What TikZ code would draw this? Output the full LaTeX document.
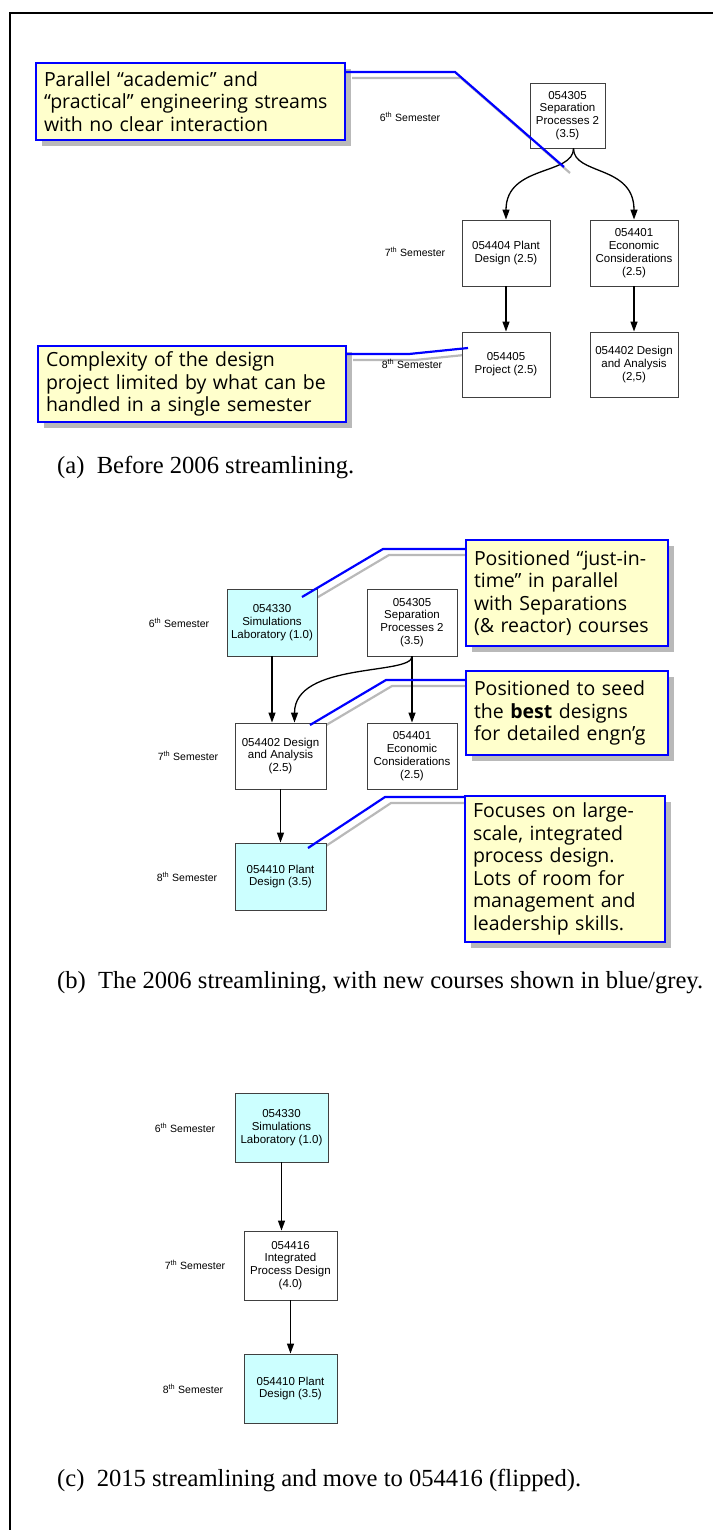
\documentclass[tikz,border=0pt]{standalone}
\usepackage{fontspec}
\setmainfont{Liberation Serif}
\setsansfont{Liberation Sans}
\newfontfamily\notefamily{Open Sans}
\usetikzlibrary{arrows.meta,shadows,backgrounds}

\definecolor{notefill}{RGB}{255,255,204}
\definecolor{newfill}{RGB}{204,255,255}
\definecolor{noteblue}{RGB}{0,0,255}
\definecolor{shadegrey}{RGB}{185,185,185}

\tikzset{
  course/.style={draw=black!75, line width=0.9pt, fill=white, align=center, inner sep=0pt,
    font=\sffamily\fontsize{11.5}{12.8}\selectfont},
  newcourse/.style={course, fill=newfill},
  sem/.style={font=\sffamily\fontsize{10.5}{12}\selectfont},
  note/.style={draw=noteblue, line width=2.2pt, fill=notefill, align=left,
    inner xsep=8pt, inner ysep=0pt, font=\notefamily\fontsize{19.5}{22.5}\selectfont,
    drop shadow={shadow xshift=6pt, shadow yshift=-6pt, fill=shadegrey, opacity=1}},
  leader/.style={noteblue, line width=2.2pt},
  leadershade/.style={shadegrey, line width=2.2pt, transform canvas={xshift=6pt,yshift=-6pt}},
  flow/.style={line width=1.3pt, -{Triangle[length=10pt,width=7pt]}},
  caption/.style={anchor=west, inner sep=0pt, font=\rmfamily\fontsize{24.6}{29}\selectfont},
}

\begin{document}
\begin{tikzpicture}[x=1pt,y=-1pt]
\useasboundingbox (0,0) rectangle (713,1530);
\draw[line width=2pt] (10,1530) -- (10,13) -- (713,13);

% (a) before 2006
\node[sem] (semsixa) at (410,117) {6\textsuperscript{th} Semester};
\node[sem] (semsevena) at (415,252) {7\textsuperscript{th} Semester};
\node[sem] (semeighta) at (412,364) {8\textsuperscript{th} Semester};
\node[course, minimum width=75pt, minimum height=65pt] (sepa) at (567.5,115.5) {054305\\Separation\\Processes 2\\(3.5)};
\node[course, minimum width=88pt, minimum height=66pt] (plantd) at (506,253) {054404 Plant\\Design (2.5)};
\node[course, minimum width=88pt, minimum height=66pt] (econa) at (634,253) {054401\\Economic\\Considerations\\(2.5)};
\node[course, minimum width=88pt, minimum height=65pt] (proja) at (506,364.5) {054405\\Project (2.5)};
\node[course, minimum width=88pt, minimum height=65pt] (desa) at (634,364.5) {054402 Design\\and Analysis\\(2,5)};
\draw[flow] ([xshift=6pt]sepa.south) .. controls +(0,27) and +(0,-55) .. (plantd.north);
\draw[flow] ([xshift=6pt]sepa.south) .. controls +(0,27) and +(0,-55) .. (econa.north);
\draw[flow] (plantd) -- (proja);
\draw[flow] (econa) -- (desa);

\node[note, text width=293pt, minimum height=77pt] (notepar) at (190.5,101.5) {Parallel “academic” and\\“practical” engineering streams\\with no clear interaction};
\node[note, text width=292pt, minimum height=76pt] (notecomp) at (192,384) {Complexity of the design\\project limited by what can be\\handled in a single semester};
\coordinate (parbend) at (455,72);
\coordinate (parend) at (564,167);
\coordinate (compbend) at (409,354);
\coordinate (compend) at (468,348);
\begin{scope}[on background layer]
\draw[leadershade] (notepar.east |- parbend) -- (parbend) -- (parend);
\draw[leadershade] (notecomp.east |- compbend) -- (compbend) -- (compend);
\end{scope}
\draw[leader] (notepar.east |- parbend) -- (parbend) -- (parend);
\draw[leader] (notecomp.east |- compbend) -- (compbend) -- (compend);

\node[caption] (capa) at (57,467) {(a)\enspace Before 2006 streamlining.};

% (b) 2006 streamlining
\node[sem] (semsixb) at (179,623) {6\textsuperscript{th} Semester};
\node[sem] (semsevenb) at (188,756) {7\textsuperscript{th} Semester};
\node[sem] (semeightb) at (187,877) {8\textsuperscript{th} Semester};
\node[newcourse, minimum width=90pt, minimum height=67pt] (simb) at (272,622.5) {054330\\Simulations\\Laboratory (1.0)};
\node[course, minimum width=90pt, minimum height=67pt] (sepb) at (412,622.5) {054305\\Separation\\Processes 2\\(3.5)};
\node[course, minimum width=91pt, minimum height=66pt] (desb) at (280.5,756) {054402 Design\\and Analysis\\(2.5)};
\node[course, minimum width=90pt, minimum height=66pt] (econb) at (412,756) {054401\\Economic\\Considerations\\(2.5)};
\node[newcourse, minimum width=91pt, minimum height=67pt] (plantb) at (280.5,876.5) {054410 Plant\\Design (3.5)};
\draw[flow] (simb.south) -- (simb.south |- desb.north);
\draw[flow] (sepb.south) .. controls +(0,19) and +(0,-61) .. ([xshift=14pt]desb.north);
\draw[flow] (sepb) -- (econb);
\draw[flow] (desb) -- (plantb);

\node[note, text width=186pt, minimum height=106pt] (notejit) at (567,593) {Positioned “just-in-\\time” in parallel\\with Separations\\(\& reactor) courses};
\node[note, text width=186pt, minimum height=84pt] (noteseed) at (567,713) {Positioned to seed\\the \textbf{best} designs\\for detailed engn’g};
\node[note, text width=184pt, minimum height=146pt] (notefocus) at (565,869) {Focuses on large-\\scale, integrated\\process design.\\Lots of room for\\management and\\leadership skills.};
\coordinate (jitbend) at (383,549);
\coordinate (jitend) at (302,597);
\coordinate (seedbend) at (386,680);
\coordinate (seedend) at (310,725);
\coordinate (focbend) at (385,797);
\coordinate (focend) at (308,848);
\begin{scope}[on background layer]
\draw[leadershade] (notejit.west |- jitbend) -- (jitbend) -- (jitend);
\draw[leadershade] (noteseed.west |- seedbend) -- (seedbend) -- (seedend);
\draw[leadershade] (notefocus.west |- focbend) -- (focbend) -- (focend);
\end{scope}
\draw[leader] (notejit.west |- jitbend) -- (jitbend) -- (jitend);
\draw[leader] (noteseed.west |- seedbend) -- (seedbend) -- (seedend);
\draw[leader] (notefocus.west |- focbend) -- (focbend) -- (focend);

\node[caption] (capb) at (57,983) {(b)\enspace The 2006 streamlining, with new courses shown in blue/grey.};

% (c) 2015 streamlining
\node[sem] (semsixc) at (185,1128) {6\textsuperscript{th} Semester};
\node[sem] (semsevenc) at (195,1265) {7\textsuperscript{th} Semester};
\node[sem] (semeightc) at (193,1389) {8\textsuperscript{th} Semester};
\node[newcourse, minimum width=93pt, minimum height=69pt] (simc) at (281.5,1127.5) {054330\\Simulations\\Laboratory (1.0)};
\node[course, minimum width=93pt, minimum height=69pt] (integc) at (290.5,1265.5) {054416\\Integrated\\Process Design\\(4.0)};
\node[newcourse, minimum width=93pt, minimum height=69pt] (plantc) at (290.5,1388.5) {054410 Plant\\Design (3.5)};
\draw[flow] (simc.south) -- (simc.south |- integc.north);
\draw[flow] (integc) -- (plantc);

\node[caption] (capc) at (57,1480) {(c)\enspace 2015 streamlining and move to 054416 (flipped).};
\end{tikzpicture}
\end{document}
